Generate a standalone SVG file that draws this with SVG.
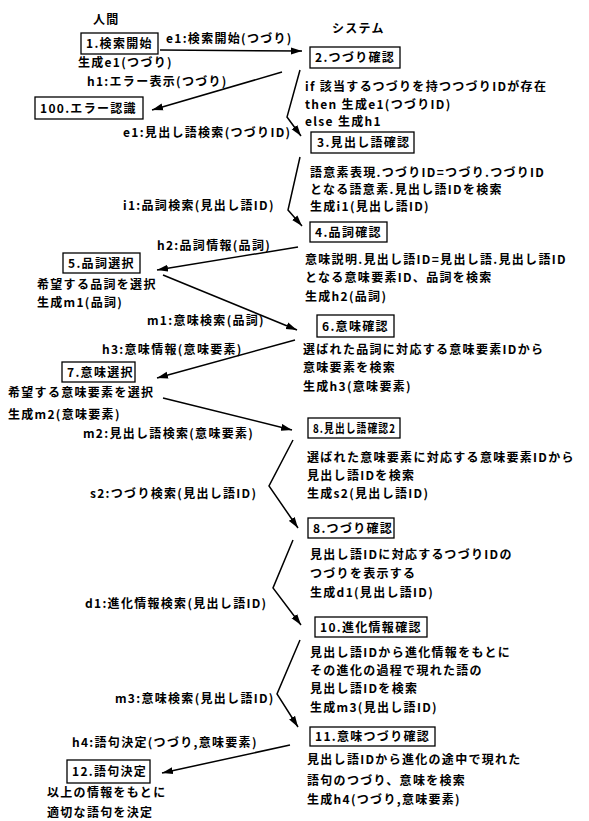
<svg xmlns="http://www.w3.org/2000/svg" width="589" height="821" viewBox="0 0 589 821">
<style>
.t{font-family:"Noto Sans CJK JP","Noto Sans",sans-serif;font-size:12px;font-weight:bold;letter-spacing:1.3px;fill:#000}
.b{fill:#fff;stroke:#000;stroke-width:1.3}
.c{fill:none;stroke:#000;stroke-width:1.5;marker-end:url(#ah)}
</style>
<defs>
<marker id="ah" markerUnits="userSpaceOnUse" markerWidth="12" markerHeight="8" refX="11" refY="4" orient="auto">
<path d="M0,0.5 L11,4 L0,7.5 z" fill="#000"/>
</marker>
</defs>
<rect width="589" height="821" fill="#fff"/>
<text class="t" x="93" y="24">人間</text>
<text class="t" x="332" y="33">システム</text>
<g id="connectors">
<path class="c" d="M160,50 L302,51"/>
<path class="c" d="M282,72 L152,110"/>
<path class="c" d="M300,70 L287,117 L301,136"/>
<path class="c" d="M300,157 L288,210 L302,226"/>
<path class="c" d="M298,247 L157,270"/>
<path class="c" d="M163,275 L297,330"/>
<path class="c" d="M295,340 L157,378"/>
<path class="c" d="M163,398 L292,430"/>
<path class="c" d="M293,440 L269,486 L298,528"/>
<path class="c" d="M293,540 L273,588 L301,625"/>
<path class="c" d="M300,640 L277,694 L298,727"/>
<path class="c" d="M290,745 L162,773"/>
</g>
<g id="labels">
<text class="t" x="166" y="43">e1:検索開始(つづり)</text>
<text class="t" x="87" y="86">h1:エラー表示(つづり)</text>
<text class="t" x="123" y="137">e1:見出し語検索(つづりID)</text>
<text class="t" x="123" y="210">i1:品詞検索(見出し語ID)</text>
<text class="t" x="157" y="250">h2:品詞情報(品詞)</text>
<text class="t" x="147" y="325">m1:意味検索(品詞)</text>
<text class="t" x="102" y="354">h3:意味情報(意味要素)</text>
<text class="t" x="83" y="438">m2:見出し語検索(意味要素)</text>
<text class="t" x="90" y="498">s2:つづり検索(見出し語ID)</text>
<text class="t" x="85" y="608">d1:進化情報検索(見出し語ID)</text>
<text class="t" x="115" y="703">m3:意味検索(見出し語ID)</text>
<text class="t" x="72" y="747">h4:語句決定(つづり,意味要素)</text>
</g>
<g id="n1">
<rect class="b" x="81" y="33" width="77" height="21"/>
<text class="t" x="86" y="48">1.検索開始</text>
<text class="t" x="78" y="67">生成e1(つづり)</text>
</g>
<g id="n2">
<rect class="b" x="310" y="47" width="90" height="21"/>
<text class="t" x="315" y="62">2.つづり確認</text>
<text class="t" x="305" y="91">if 該当するつづりを持つつづりIDが存在</text>
<text class="t" x="305" y="109">then 生成e1(つづりID)</text>
<text class="t" x="305" y="126">else 生成h1</text>
</g>
<g id="n100">
<rect class="b" x="35" y="97" width="108" height="22"/>
<text class="t" x="40" y="113">100.エラー認識</text>
</g>
<g id="n3">
<rect class="b" x="311" y="132" width="103" height="21"/>
<text class="t" x="317" y="147">3.見出し語確認</text>
<text class="t" x="310" y="177">語意素表現.つづりID=つづり.つづりID</text>
<text class="t" x="310" y="194">となる語意素.見出し語IDを検索</text>
<text class="t" x="310" y="211">生成i1(見出し語ID)</text>
</g>
<g id="n4">
<rect class="b" x="310" y="222" width="77" height="20"/>
<text class="t" x="315" y="237">4.品詞確認</text>
<text class="t" x="305" y="264">意味説明.見出し語ID=見出し語.見出し語ID</text>
<text class="t" x="305" y="282">となる意味要素ID、品詞を検索</text>
<text class="t" x="305" y="301">生成h2(品詞)</text>
</g>
<g id="n5">
<rect class="b" x="63" y="253" width="77" height="20"/>
<text class="t" x="68" y="268">5.品詞選択</text>
<text class="t" x="37" y="289">希望する品詞を選択</text>
<text class="t" x="37" y="307">生成m1(品詞)</text>
</g>
<g id="n6">
<rect class="b" x="317" y="315" width="77" height="22"/>
<text class="t" x="322" y="331">6.意味確認</text>
<text class="t" x="303" y="354">選ばれた品詞に対応する意味要素IDから</text>
<text class="t" x="303" y="372">意味要素を検索</text>
<text class="t" x="303" y="391">生成h3(意味要素)</text>
</g>
<g id="n7">
<rect class="b" x="62" y="362" width="73" height="20"/>
<text class="t" x="67" y="377">7.意味選択</text>
<text class="t" x="8" y="397">希望する意味要素を選択</text>
<text class="t" x="8" y="419">生成m2(意味要素)</text>
</g>
<g id="n8">
<rect class="b" x="308" y="418" width="92" height="20"/>
<text class="t" x="313" y="433" textLength="83" lengthAdjust="spacingAndGlyphs">8.見出し語確認2</text>
<text class="t" x="307" y="462">選ばれた意味要素に対応する意味要素IDから</text>
<text class="t" x="307" y="480">見出し語IDを検索</text>
<text class="t" x="307" y="498">生成s2(見出し語ID)</text>
</g>
<g id="n9">
<rect class="b" x="308" y="518" width="86" height="20"/>
<text class="t" x="313" y="533">8.つづり確認</text>
<text class="t" x="310" y="559">見出し語IDに対応するつづりIDの</text>
<text class="t" x="310" y="578">つづりを表示する</text>
<text class="t" x="310" y="597">生成d1(見出し語ID)</text>
</g>
<g id="n10">
<rect class="b" x="315" y="617" width="112" height="20"/>
<text class="t" x="320" y="632">10.進化情報確認</text>
<text class="t" x="310" y="657">見出し語IDから進化情報をもとに</text>
<text class="t" x="310" y="675">その進化の過程で現れた語の</text>
<text class="t" x="310" y="693">見出し語IDを検索</text>
<text class="t" x="310" y="712">生成m3(見出し語ID)</text>
</g>
<g id="n11">
<rect class="b" x="310" y="727" width="125" height="19"/>
<text class="t" x="315" y="741">11.意味つづり確認</text>
<text class="t" x="307" y="764">見出し語IDから進化の途中で現れた</text>
<text class="t" x="307" y="785">語句のつづり、意味を検索</text>
<text class="t" x="307" y="804">生成h4(つづり,意味要素)</text>
</g>
<g id="n12">
<rect class="b" x="67" y="760" width="83" height="23"/>
<text class="t" x="72" y="776">12.語句決定</text>
<text class="t" x="47" y="797">以上の情報をもとに</text>
<text class="t" x="47" y="817">適切な語句を決定</text>
</g>
</svg>
